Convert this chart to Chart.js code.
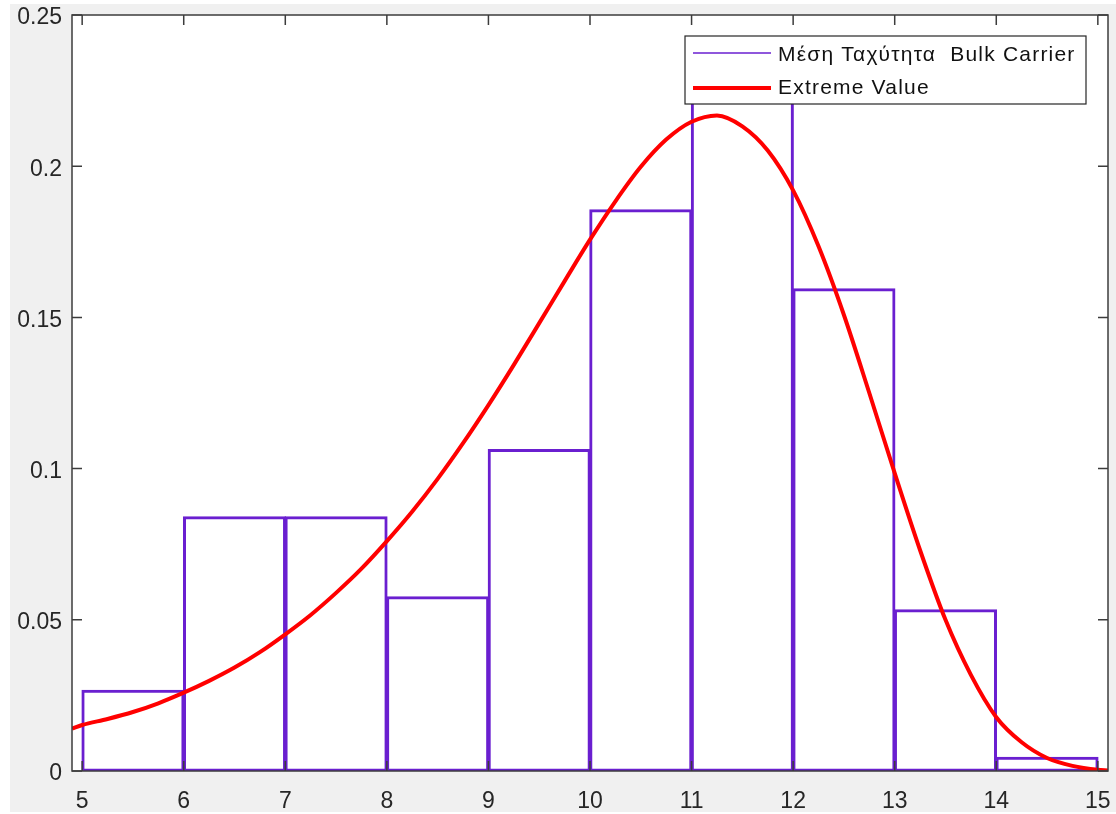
<!DOCTYPE html>
<html>
<head>
<meta charset="utf-8">
<script src="https://cdn.jsdelivr.net/npm/chart.js@4"></script>
<style>
  body { margin: 0; background: #ffffff; }
  #wrap { width: 1116px; height: 814px; }
</style>
</head>
<body>
<div id="wrap"><canvas id="myChart" width="1116" height="814"></canvas></div>
<script>
// histogram bins (centres) and heights
const binCenters = [5.5, 6.5, 7.5, 8.5, 9.5, 10.5, 11.5, 12.5, 13.5, 14.5];
const binHeights = [0.0266, 0.0840, 0.0840, 0.0575, 0.1062, 0.1855, 0.2320, 0.1594, 0.0532, 0.0045];

// fitted extreme value curve
const curveX = [4.9, 5, 5.25, 5.5, 5.75, 6, 6.25, 6.5, 6.75, 7, 7.25, 7.5, 7.75, 8, 8.25, 8.5, 8.75,
  9, 9.25, 9.5, 9.75, 10, 10.25, 10.5, 10.75, 11, 11.25, 11.5, 11.75, 12, 12.25, 12.5, 12.75,
  13, 13.25, 13.5, 13.75, 14, 14.25, 14.5, 14.75, 15, 15.1];
const curveY = [0.0140, 0.0152, 0.0172, 0.0195, 0.0224, 0.0259, 0.0298, 0.0342, 0.0393, 0.0452, 0.0516, 0.0589, 0.0669, 0.0760,
  0.0858, 0.0966, 0.1084, 0.1210, 0.1343, 0.1481, 0.1620, 0.1757, 0.1884, 0.1998, 0.2088, 0.2147, 0.2168, 0.2132,
  0.2052, 0.1920, 0.1735, 0.1508, 0.1250, 0.0985, 0.0730, 0.0500, 0.0318, 0.0178, 0.0095, 0.0043, 0.0017, 0.0004, 0.0002];

const xTicks = [5, 6, 7, 8, 9, 10, 11, 12, 13, 14, 15];
const yTicks = [0, 0.05, 0.1, 0.15, 0.2, 0.25];

const histLabel = 'Μέση Ταχύτητα  Bulk Carrier';
const fitLabel = 'Extreme Value';

const purple = '#6a1fd0';
const red = '#ff0000';
const axisColor = '#3c3c3c';

const frame = {
    id: 'frame',
    beforeDraw(chart) {
        const { ctx, chartArea: a } = chart;
        ctx.save();
        ctx.fillStyle = '#f0f0f0';
        ctx.fillRect(10, 4, chart.width - 10, chart.height - 6);
        ctx.fillStyle = '#ffffff';
        ctx.fillRect(a.left, a.top, a.right - a.left, a.bottom - a.top);
        ctx.restore();
    },
    afterDatasetsDraw(chart) {
        const { ctx, chartArea: a, scales } = chart;
        ctx.save();
        ctx.strokeStyle = axisColor;
        ctx.lineWidth = 1.5;
        ctx.strokeRect(a.left, a.top, a.right - a.left, a.bottom - a.top);

        // inward ticks on all four sides
        ctx.beginPath();
        xTicks.forEach(v => {
            const px = scales.x.getPixelForValue(v);
            ctx.moveTo(px, a.bottom); ctx.lineTo(px, a.bottom - 10);
            ctx.moveTo(px, a.top); ctx.lineTo(px, a.top + 10);
        });
        yTicks.forEach(v => {
            const py = scales.y.getPixelForValue(v);
            ctx.moveTo(a.left, py); ctx.lineTo(a.left + 10, py);
            ctx.moveTo(a.right, py); ctx.lineTo(a.right - 10, py);
        });
        ctx.stroke();

        // legend box
        const lx = a.right - 423, ly = a.top + 21, lw = 401, lh = 68;
        ctx.fillStyle = '#ffffff';
        ctx.fillRect(lx, ly, lw, lh);
        ctx.strokeStyle = '#262626';
        ctx.lineWidth = 1.2;
        ctx.strokeRect(lx, ly, lw, lh);

        ctx.font = '21px "Liberation Sans", Arial, sans-serif';
        if ('letterSpacing' in ctx) ctx.letterSpacing = '1.2px';
        ctx.fillStyle = '#111111';
        ctx.textBaseline = 'middle';

        ctx.strokeStyle = purple;
        ctx.lineWidth = 1.5;
        ctx.beginPath();
        ctx.moveTo(lx + 8, ly + 17); ctx.lineTo(lx + 86, ly + 17);
        ctx.stroke();
        ctx.fillText(histLabel, lx + 93, ly + 19);

        ctx.strokeStyle = red;
        ctx.lineWidth = 4;
        ctx.beginPath();
        ctx.moveTo(lx + 8, ly + 52); ctx.lineTo(lx + 86, ly + 52);
        ctx.stroke();
        ctx.fillText(fitLabel, lx + 93, ly + 52);
        ctx.restore();
    }
};

const tickFont = { family: '"Liberation Sans", Arial, sans-serif', size: 23 };

new Chart(document.getElementById('myChart'), {
    data: {
        datasets: [
            {
                type: 'line',
                label: fitLabel,
                data: curveX.map((x, i) => ({ x, y: curveY[i] })),
                borderColor: red,
                borderWidth: 4,
                pointRadius: 0,
                tension: 0.4,
                cubicInterpolationMode: 'monotone',
                order: 0
            },
            {
                type: 'bar',
                label: histLabel,
                data: binCenters.map((x, i) => ({ x, y: binHeights[i] })),
                backgroundColor: 'rgba(255,255,255,0)',
                borderColor: purple,
                borderWidth: 1.5,
                borderSkipped: false,
                inflateAmount: 0.75,
                barPercentage: 1,
                categoryPercentage: 1,
                order: 1
            }
        ]
    },
    options: {
        responsive: false,
        animation: false,
        layout: { padding: { left: 0, right: 8, top: 15, bottom: 0 } },
        plugins: {
            legend: { display: false },
            tooltip: { enabled: false }
        },
        scales: {
            x: {
                type: 'linear',
                offset: false,
                min: 4.9,
                max: 15.1,
                afterBuildTicks: s => { s.ticks = xTicks.map(v => ({ value: v })); },
                afterFit: s => { s.height = 43; s.paddingLeft = 0; s.paddingRight = 0; },
                grid: { display: false, drawTicks: false, offset: false },
                border: { display: false },
                ticks: {
                    color: '#262626',
                    font: tickFont,
                    padding: 17,
                    maxRotation: 0,
                    autoSkip: false,
                    callback: v => String(v)
                }
            },
            y: {
                type: 'linear',
                min: 0,
                max: 0.25,
                afterBuildTicks: s => { s.ticks = yTicks.map(v => ({ value: v })); },
                afterFit: s => { s.width = 72; s.paddingTop = 0; s.paddingBottom = 0; },
                grid: { display: false, drawTicks: false },
                border: { display: false },
                ticks: {
                    color: '#262626',
                    font: tickFont,
                    padding: 10,
                    labelOffset: 3,
                    autoSkip: false,
                    callback: v => String(v)
                }
            }
        }
    },
    plugins: [frame]
});
</script>
</body>
</html>
